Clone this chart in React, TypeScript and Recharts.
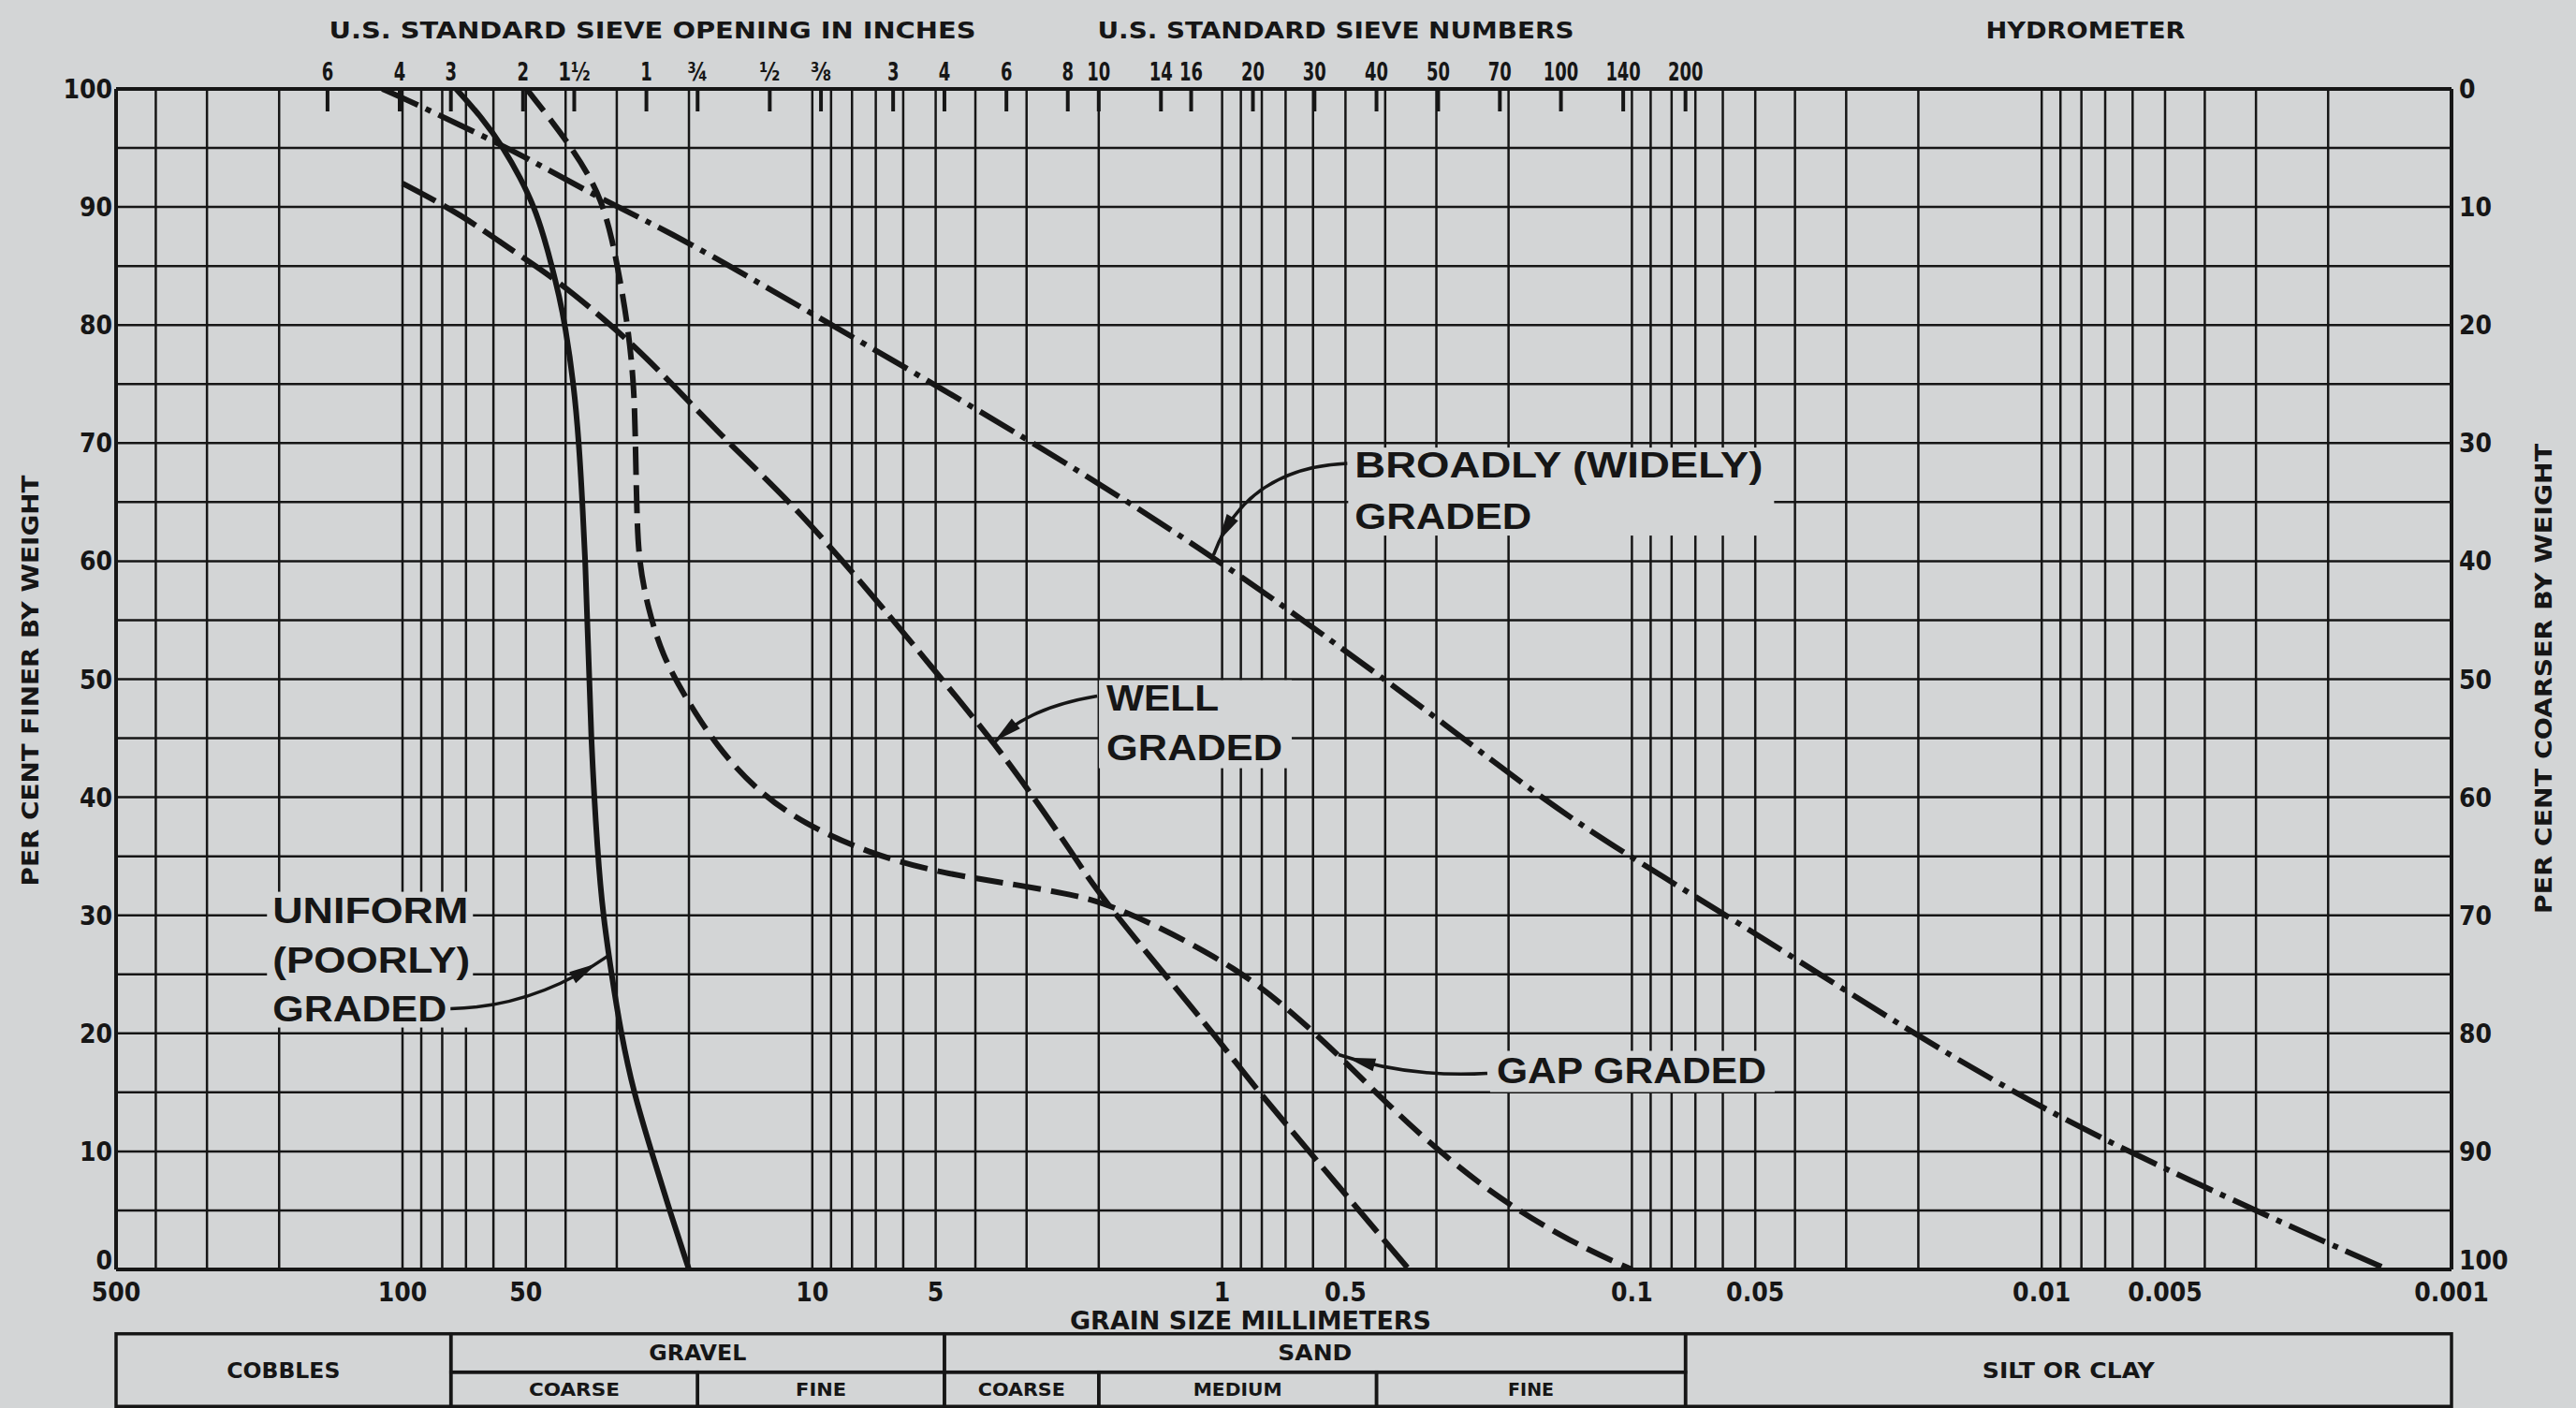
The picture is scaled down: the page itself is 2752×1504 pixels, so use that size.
import React from 'react';
import { LineChart, Line, XAxis, YAxis, ReferenceLine, ReferenceArea, ReferenceDot } from 'recharts';

const INK = '#161616';
const PAPER = '#d3d5d6';
const AXIS_FONT = "'DejaVu Sans Condensed', 'DejaVu Sans', sans-serif";
const NOTE_FONT = "'Liberation Sans', Arial, sans-serif";

// ---- curves: [grain size in mm, per cent finer by weight] ----
const uniformGraded: number[][] = [
  [74, 100], [63.7, 97.5], [56.7, 95], [51.6, 92.5], [47.7, 90], [45.2, 87.5], [43.2, 85],
  [41.5, 82.5], [40.1, 80], [38.2, 75], [37.1, 70], [36.4, 65], [35.8, 60], [35.4, 55],
  [34.7, 45], [33.4, 35], [32.4, 30], [30.9, 25], [29.3, 20], [27.3, 15], [24.7, 10],
  [22.3, 5], [20, 0],
];
const wellGraded: number[][] = [
  [100, 92], [72, 89.4], [53, 86.1], [43, 84.1], [29.2, 79.3], [22.1, 75.1], [15.5, 69.5],
  [10.9, 64.5], [6.7, 56], [5.25, 51.5], [3.65, 44.9], [2.94, 40.4], [2.3, 35.1], [2.0, 31.7],
  [1.02, 19.5], [0.85, 15.8], [0.57, 8.7], [0.35, 0],
];
const gapGraded: number[][] = [
  [49.8, 100], [38.6, 95.1], [32.4, 90.7], [30, 85.4], [28.2, 80.1], [27.2, 74.8], [27, 69.5],
  [26.8, 64], [26.5, 60], [25.2, 56], [23.2, 52], [20.6, 48.7], [17.2, 44.4], [13.8, 40.7],
  [10.6, 37.8], [7.1, 35.1], [4.74, 33.5], [3.17, 32.6], [2.3, 31.7], [2.0, 31.2], [1.45, 29.2],
  [0.91, 25.4], [0.686, 22], [0.506, 17.8], [0.356, 12.4], [0.222, 6.4], [0.139, 2.2], [0.1, 0],
];
const broadlyGraded: number[][] = [
  [112, 100], [95, 98.9], [56.8, 95.2], [46, 93.5], [32.4, 90.6], [22.1, 87.8], [14.5, 84.2],
  [10.9, 81.7], [2.94, 70.3], [1.06, 60.5], [0.589, 54.2], [0.285, 46.2], [0.142, 38],
  [0.056, 29.6], [0.0205, 19.9], [0.00918, 12.9], [0.00439, 7.6], [0.00203, 2.3], [0.00143, 0],
];

// ---- axes ----
const bottomTicks = [500, 100, 50, 10, 5, 1, 0.5, 0.1, 0.05, 0.01, 0.005, 0.001];
const percentTicks = [0, 10, 20, 30, 40, 50, 60, 70, 80, 90, 100];
const gridPercents = [0, 5, 10, 15, 20, 25, 30, 35, 40, 45, 50, 55, 60, 65, 70, 75, 80, 85, 90, 95, 100];
const gridDecades = [100, 10, 1, 0.1, 0.01, 0.001];
const gridMantissas = [1, 2, 3, 4, 5, 6, 7, 8, 9];
const sieveMm = [152.4, 101.6, 76.2, 50.8, 38.1, 25.4, 19.05, 12.7, 9.525,
  6.35, 4.76, 3.36, 2.38, 2.0, 1.41, 1.19, 0.841, 0.595, 0.42, 0.297, 0.21, 0.149, 0.105, 0.074];
const sieveLabels = ['6', '4', '3', '2', '1½', '1', '¾', '½', '⅜',
  '3', '4', '6', '8', '10', '14', '16', '20', '30', '40', '50', '70', '100', '140', '200'];

// ---- soil classification table (grain size limits, mm) ----
const tableCells = [
  { from: 500, to: 76.2, row: 'full', label: 'COBBLES', fs: 23, w: 121 },
  { from: 76.2, to: 4.76, row: 'top', label: 'GRAVEL', fs: 23, w: 104 },
  { from: 76.2, to: 19.05, row: 'bottom', label: 'COARSE', fs: 19, w: 97 },
  { from: 19.05, to: 4.76, row: 'bottom', label: 'FINE', fs: 19, w: 54 },
  { from: 4.76, to: 0.074, row: 'top', label: 'SAND', fs: 23, w: 79 },
  { from: 4.76, to: 2.0, row: 'bottom', label: 'COARSE', fs: 19, w: 93 },
  { from: 2.0, to: 0.42, row: 'bottom', label: 'MEDIUM', fs: 19, w: 95 },
  { from: 0.42, to: 0.074, row: 'bottom', label: 'FINE', fs: 19, w: 49 },
  { from: 0.074, to: 0.001, row: 'full', label: 'SILT OR CLAY', fs: 23, w: 184 },
];
const TABLE_TOP = -5.45;
const TABLE_MID = -8.7;
const TABLE_BOTTOM = -11.6;

// ---- annotations: arrow tip in data units, text/mask/arrow offsets in px ----
const annotations = [
  {
    tip: [1.05, 60.5], mask: [144, -115, 455, 94], from: [143, -98], bend: [34, -93],
    lines: [{ t: 'BROADLY (WIDELY)', dx: 151, dy: -83, w: 436 }, { t: 'GRADED', dx: 151, dy: -28, w: 189 }],
  },
  {
    tip: [3.6, 44.6], mask: [112, -67, 206, 94], from: [110, -50], bend: [33, -37],
    lines: [{ t: 'WELL', dx: 120, dy: -35, w: 120 }, { t: 'GRADED', dx: 120, dy: 18, w: 188 }],
  },
  {
    tip: [31.4, 26.6], mask: [-365, -68, 220, 145], from: [-169, 57], bend: [-79, 55],
    lines: [
      { t: 'UNIFORM', dx: -359, dy: -35, w: 209 },
      { t: '(POORLY)', dx: -359, dy: 18, w: 211 },
      { t: 'GRADED', dx: -359, dy: 70, w: 186 },
    ],
  },
  {
    tip: [0.52, 18.2], mask: [162, -4, 304, 44], from: [159, 20], bend: [74, 25],
    lines: [{ t: 'GAP GRADED', dx: 169, dy: 31, w: 288 }],
  },
];

const toPoints = (pairs: number[][]) => pairs.map(([d, p]) => ({ d, p }));
const gridSizes = gridDecades
  .flatMap((dec) => gridMantissas.map((m) => +(m * dec).toPrecision(6)))
  .filter((v) => v <= 500);

const FRACTIONS = '½¾⅜';
const labelWidth = (label: string) =>
  Array.from(label).reduce((w, ch) => w + (FRACTIONS.includes(ch) ? 22 : 12.5), 0);

const SieveTick = (props: any) => {
  const { x, y, payload } = props;
  const i = sieveMm.indexOf(payload.value);
  const label = sieveLabels[i] || '';
  return (
    <g>
      <line x1={x} x2={x} y1={y} y2={y + 24} stroke={INK} strokeWidth={4} />
      <text
        x={x}
        y={y - 9}
        textAnchor="middle"
        fontSize={27}
        fontWeight={700}
        fontFamily={AXIS_FONT}
        fill={INK}
        textLength={labelWidth(label)}
        lengthAdjust="spacingAndGlyphs"
      >
        {label}
      </text>
    </g>
  );
};

const makePercentTick = (anchor: 'start' | 'end', liftValue: number) => (props: any) => {
  const { x, y, payload } = props;
  const lift = payload.value === liftValue ? -10 : 0;
  return (
    <text x={x} y={y + lift} dy="0.36em" textAnchor={anchor} fontSize={28} fontWeight={700} fontFamily={AXIS_FONT} fill={INK}>
      {payload.value}
    </text>
  );
};
const LeftTick = makePercentTick('end', 0);
const RightTick = makePercentTick('start', 100);

const makeCell = (c: any) => (props: any) => {
  const { x, y, width, height } = props;
  if (x == null || y == null) return null;
  return (
    <g>
      <rect x={x} y={y} width={width} height={height} fill="none" stroke={INK} strokeWidth={3.5} />
      <text
        x={x + width / 2}
        y={y + height / 2}
        dy="0.36em"
        textAnchor="middle"
        fontSize={c.fs}
        fontWeight={700}
        fontFamily={AXIS_FONT}
        fill={INK}
        textLength={c.w}
        lengthAdjust="spacingAndGlyphs"
      >
        {c.label}
      </text>
    </g>
  );
};

const makeAnnotation = (a: any) => (props: any) => {
  const { cx, cy } = props;
  if (cx == null || cy == null) return null;
  const [mx, my, mw, mh] = a.mask;
  const [px, py] = a.from;
  const [qx, qy] = a.bend;
  const t = 0.84;
  const bx = (1 - t) * (1 - t) * px + 2 * (1 - t) * t * qx;
  const by = (1 - t) * (1 - t) * py + 2 * (1 - t) * t * qy;
  const tx = 2 * (1 - t) * (qx - px) + 2 * t * (0 - qx);
  const ty = 2 * (1 - t) * (qy - py) + 2 * t * (0 - qy);
  const len = Math.hypot(tx, ty) || 1;
  const ux = tx / len, uy = ty / len, nx = -uy, ny = ux;
  const head = `M ${bx + ux * 15} ${by + uy * 15} L ${bx - ux * 15 + nx * 7} ${by - uy * 15 + ny * 7} L ${bx - ux * 15 - nx * 7} ${by - uy * 15 - ny * 7} Z`;
  return (
    <g transform={`translate(${cx},${cy})`}>
      <rect x={mx} y={my} width={mw} height={mh} fill={PAPER} />
      <path d={`M ${px} ${py} Q ${qx} ${qy} 0 0`} fill="none" stroke={INK} strokeWidth={3.5} />
      <path d={head} fill={INK} />
      {a.lines.map((l: any, i: number) => (
        <text
          key={i}
          x={l.dx}
          y={l.dy}
          fontSize={38}
          fontWeight={700}
          fontFamily={NOTE_FONT}
          fill={INK}
          textLength={l.w}
          lengthAdjust="spacingAndGlyphs"
        >
          {l.t}
        </text>
      ))}
    </g>
  );
};

const titleStyle = { fontWeight: 700, fontFamily: AXIS_FONT, fill: INK } as const;

export default function App() {
  const W = 2752;
  const H = 1504;
  const tickStyle = { fill: INK, fontSize: 28, fontWeight: 700, fontFamily: AXIS_FONT };
  return (
    <div style={{ position: 'absolute', left: 0, top: 0, width: W, height: H, background: PAPER, overflow: 'hidden' }}>
      <LineChart width={W} height={H} margin={{ top: 55, left: 10, right: 23, bottom: 98 }}>
        <XAxis
          xAxisId="bottom"
          dataKey="d"
          type="number"
          scale="log"
          domain={[0.001, 500]}
          allowDataOverflow
          reversed
          ticks={bottomTicks}
          interval={0}
          height={50}
          axisLine={false}
          tickLine={false}
          tickSize={0}
          tickMargin={14}
          tick={tickStyle}
          tickFormatter={(v: number) => String(v)}
        />
        <XAxis
          xAxisId="top"
          orientation="top"
          dataKey="d"
          type="number"
          scale="log"
          domain={[0.001, 500]}
          allowDataOverflow
          reversed
          ticks={sieveMm}
          interval={0}
          height={40}
          axisLine={false}
          tickLine={false}
          tickSize={0}
          tickMargin={0}
          tick={<SieveTick />}
        />
        <YAxis
          yAxisId="left"
          type="number"
          domain={[0, 100]}
          allowDataOverflow
          ticks={percentTicks}
          interval={0}
          width={114}
          axisLine={false}
          tickLine={false}
          tickSize={0}
          tickMargin={4}
          tick={<LeftTick />}
        />
        <YAxis
          yAxisId="right"
          orientation="right"
          type="number"
          domain={[0, 100]}
          allowDataOverflow
          reversed
          ticks={percentTicks}
          interval={0}
          width={110}
          axisLine={false}
          tickLine={false}
          tickSize={0}
          tickMargin={8}
          tick={<RightTick />}
        />

        {gridSizes.map((v) => (
          <ReferenceLine
            key={`gx${v}`}
            xAxisId="bottom"
            yAxisId="left"
            x={v}
            stroke={INK}
            strokeWidth={v === 500 || v === 0.001 ? 4 : 2.5}
            ifOverflow="visible"
          />
        ))}
        {gridPercents.map((v) => (
          <ReferenceLine
            key={`gy${v}`}
            xAxisId="bottom"
            yAxisId="left"
            y={v}
            stroke={INK}
            strokeWidth={v === 0 || v === 100 ? 4 : 2.5}
            ifOverflow="visible"
          />
        ))}

        {tableCells.map((c, i) => (
          <ReferenceArea
            key={`cell${i}`}
            xAxisId="bottom"
            yAxisId="left"
            x1={c.from}
            x2={c.to}
            y1={c.row === 'bottom' ? TABLE_MID : TABLE_TOP}
            y2={c.row === 'top' ? TABLE_MID : TABLE_BOTTOM}
            ifOverflow="visible"
            shape={makeCell(c)}
          />
        ))}

        <Line xAxisId="bottom" yAxisId="left" data={toPoints(uniformGraded)} dataKey="p" type="basis"
          stroke={INK} strokeWidth={6} dot={false} activeDot={false} isAnimationActive={false} />
        <Line xAxisId="bottom" yAxisId="left" data={toPoints(wellGraded)} dataKey="p" type="basis"
          stroke={INK} strokeWidth={6} strokeDasharray="40 10" dot={false} activeDot={false} isAnimationActive={false} />
        <Line xAxisId="bottom" yAxisId="left" data={toPoints(gapGraded)} dataKey="p" type="basis"
          stroke={INK} strokeWidth={6} strokeDasharray="30 11" dot={false} activeDot={false} isAnimationActive={false} />
        <Line xAxisId="bottom" yAxisId="left" data={toPoints(broadlyGraded)} dataKey="p" type="basis"
          stroke={INK} strokeWidth={6} strokeDasharray="42 9 6 9" dot={false} activeDot={false} isAnimationActive={false} />

        {annotations.map((a, i) => (
          <ReferenceDot
            key={`ann${i}`}
            xAxisId="bottom"
            yAxisId="left"
            x={a.tip[0]}
            y={a.tip[1]}
            r={0}
            ifOverflow="visible"
            shape={makeAnnotation(a)}
          />
        ))}
      </LineChart>

      <svg width={W} height={H} style={{ position: 'absolute', left: 0, top: 0, pointerEvents: 'none' }}>
        <text x={697} y={41} textAnchor="middle" fontSize={25} {...titleStyle} textLength={691} lengthAdjust="spacingAndGlyphs">
          U.S. STANDARD SIEVE OPENING IN INCHES
        </text>
        <text x={1427} y={41} textAnchor="middle" fontSize={25} {...titleStyle} textLength={509} lengthAdjust="spacingAndGlyphs">
          U.S. STANDARD SIEVE NUMBERS
        </text>
        <text x={2228} y={41} textAnchor="middle" fontSize={25} {...titleStyle} textLength={213} lengthAdjust="spacingAndGlyphs">
          HYDROMETER
        </text>
        <text x={1336} y={1420} textAnchor="middle" fontSize={27} {...titleStyle} textLength={386} lengthAdjust="spacingAndGlyphs">
          GRAIN SIZE MILLIMETERS
        </text>
        <text transform="translate(41,727) rotate(-90)" textAnchor="middle" fontSize={24} {...titleStyle} textLength={439} lengthAdjust="spacingAndGlyphs">
          PER CENT FINER BY WEIGHT
        </text>
        <text transform="translate(2726,725) rotate(-90)" textAnchor="middle" fontSize={24} {...titleStyle} textLength={502} lengthAdjust="spacingAndGlyphs">
          PER CENT COARSER BY WEIGHT
        </text>
      </svg>
    </div>
  );
}
